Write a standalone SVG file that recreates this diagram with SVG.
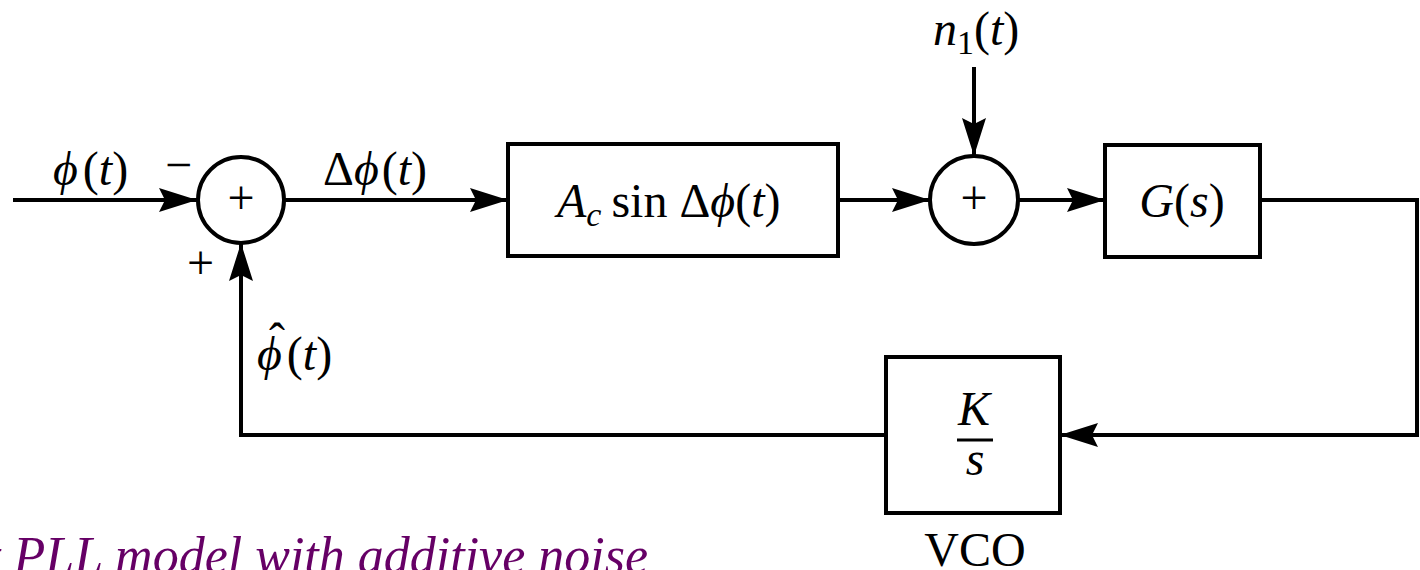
<svg xmlns="http://www.w3.org/2000/svg" width="1420" height="570" viewBox="0 0 1420 570">
<style>
.blk{fill:#fff;stroke:#000;stroke-width:4}
.sum{fill:#fff;stroke:#000;stroke-width:4}
.ln{fill:none;stroke:#000;stroke-width:4}
.t{font-family:"Liberation Serif","Times New Roman",serif;font-size:48px;fill:#000}
.i{font-style:italic}
.cap{font-family:"Liberation Serif","Times New Roman",serif;font-size:52px;font-style:italic;fill:#660066}
</style>
<defs>
<marker id="ah" markerUnits="userSpaceOnUse" markerWidth="40" markerHeight="24" refX="38" refY="12" orient="auto">
<path d="M0,0 L38,12 L0,24 L6,12 z" fill="#000"/>
</marker>
</defs>
<rect width="1420" height="570" fill="#fff"/>
<g id="connectors">
<path class="ln" d="M13,200 L197,200" marker-end="url(#ah)"/>
<path class="ln" d="M284,200 L508,200" marker-end="url(#ah)"/>
<path class="ln" d="M838,200 L930,200" marker-end="url(#ah)"/>
<path class="ln" d="M974,67 L974,156" marker-end="url(#ah)"/>
<path class="ln" d="M1018,200 L1105,200" marker-end="url(#ah)"/>
<path class="ln" d="M1260,200 L1417,200 L1417,435 L1060,435" marker-end="url(#ah)"/>
<path class="ln" d="M886,435 L241,435 L241,243" marker-end="url(#ah)"/>
</g>
<g id="sum1">
<circle class="sum" cx="241" cy="200" r="43"/>
<text class="t" x="241" y="214" text-anchor="middle">+</text>
</g>
<g id="block1">
<rect class="blk" x="508" y="144" width="330" height="112"/>
<text class="t" x="557" y="217"><tspan class="i">A</tspan><tspan class="i" font-size="34" dy="9">c</tspan><tspan dy="-9" dx="10">sin Δ</tspan><tspan class="i">ϕ</tspan>(<tspan class="i">t</tspan>)</text>
</g>
<g id="sum2">
<circle class="sum" cx="974" cy="200" r="44"/>
<text class="t" x="974" y="214" text-anchor="middle">+</text>
</g>
<g id="block_g">
<rect class="blk" x="1105" y="145" width="155" height="112"/>
<text class="t" x="1182" y="217" text-anchor="middle"><tspan class="i">G</tspan>(<tspan class="i">s</tspan>)</text>
</g>
<g id="vco">
<rect class="blk" x="886" y="357" width="174" height="156"/>
<text class="t i" x="974" y="425" text-anchor="middle">K</text>
<line x1="957" y1="440" x2="993" y2="440" stroke="#000" stroke-width="3"/>
<text class="t i" x="975" y="475" text-anchor="middle">s</text>
<text class="t" x="975" y="566" text-anchor="middle" font-size="44">VCO</text>
</g>
<g id="labels">
<text class="t" x="53" y="185"><tspan class="i">ϕ</tspan><tspan dx="5">(</tspan><tspan class="i">t</tspan>)</text>
<text class="t" x="165" y="181" font-size="40">−</text>
<text class="t" x="187" y="279" font-size="40">+</text>
<text class="t" x="323" y="185">Δ<tspan class="i">ϕ</tspan><tspan dx="3">(</tspan><tspan class="i">t</tspan>)</text>
<text class="t" x="933" y="45"><tspan class="i">n</tspan><tspan font-size="34" dy="9">1</tspan><tspan dy="-9">(</tspan><tspan class="i">t</tspan>)</text>
<text class="t" x="257" y="370"><tspan class="i">ϕ</tspan><tspan dx="5">(</tspan><tspan class="i">t</tspan>)</text>
<text class="t" x="269" y="357" font-size="40">ˆ</text>
<text class="cap" x="-14" y="573">t PLL model with additive noise</text>
</g>
</svg>
